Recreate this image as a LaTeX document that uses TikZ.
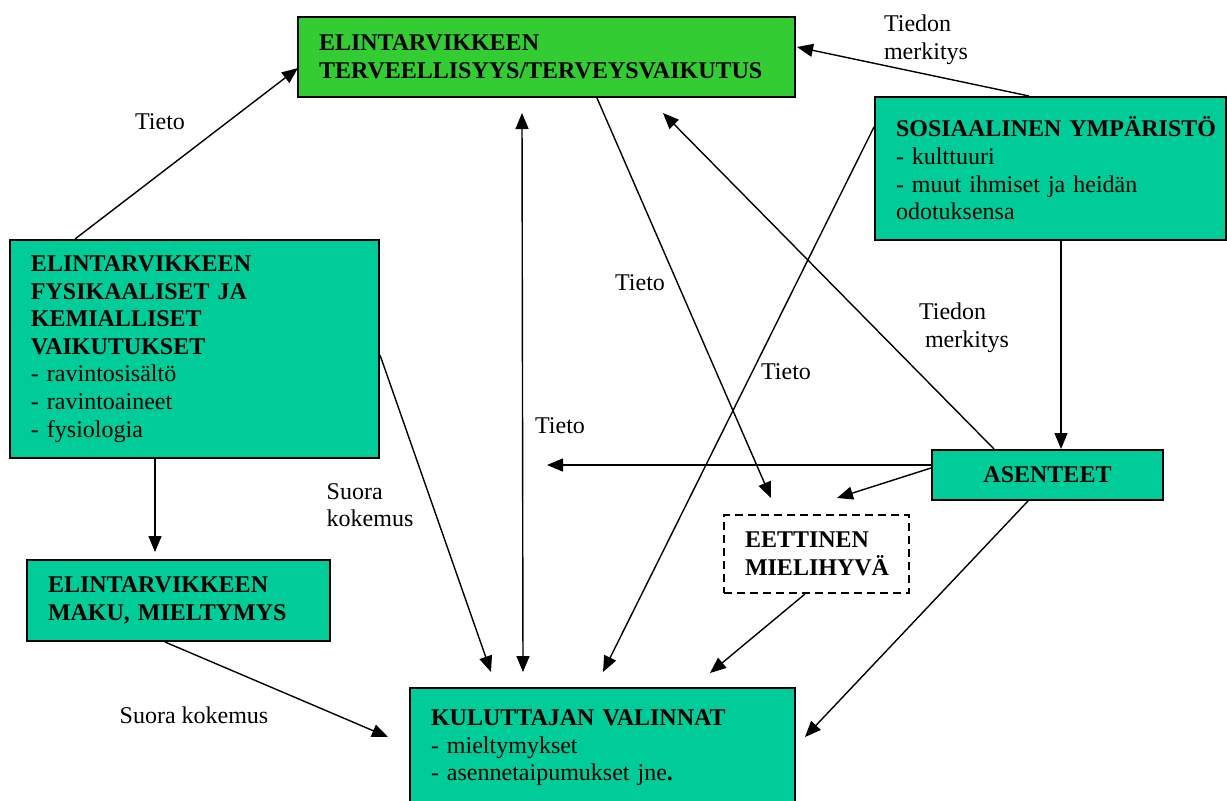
\documentclass[tikz,border=0pt]{standalone}
\usepackage{fontspec}
\setmainfont{Liberation Serif}
\usetikzlibrary{arrows.meta}

\definecolor{healthgreen}{HTML}{33CC33}
\definecolor{boxteal}{HTML}{00CC99}

\begin{document}
\begin{tikzpicture}[x=0.5pt,y=-0.5pt,
  font=\fontsize{12}{13.8}\selectfont,
  box/.style={draw,line width=1pt,fill=boxteal,inner xsep=10.5pt,align=left},
  lbl/.style={align=left,inner sep=0pt},
  arr/.style={-{Triangle[length=8pt,width=6.5pt]},line width=0.7pt}]
  \useasboundingbox (0,0) rectangle (1227,800);

  % --- Boxes ---
  \node[box,fill=healthgreen,minimum height=40pt,text width=227.5pt] (health) at (546.5,57)
    {\textbf{ELINTARVIKKEEN}\\\textbf{TERVEELLISYYS/TERVEYSVAIKUTUS}};
  \node[box,minimum height=71.5pt,text width=154.5pt] (social) at (1050.5,168.5)
    {\mbox{\textbf{SOSIAALINEN YMPÄRISTÖ}}\\- kulttuuri\\- muut ihmiset ja heidän\\odotuksensa};
  \node[box,minimum height=109pt,text width=163.5pt] (phys) at (194.5,349)
    {\textbf{ELINTARVIKKEEN}\\\textbf{FYSIKAALISET JA}\\\textbf{KEMIALLISET}\\\textbf{VAIKUTUKSET}\\- ravintosisältö\\- ravintoaineet\\- fysiologia};
  \node[box,minimum height=40.5pt,text width=130.5pt] (taste) at (178.5,600.5)
    {\textbf{ELINTARVIKKEEN}\\\textbf{MAKU, MIELTYMYS}};
  \node[box,align=center,minimum height=25pt,text width=94.5pt] (attitudes) at (1047.5,475)
    {\textbf{ASENTEET}};
  \node[box,fill=white,dash pattern=on 4pt off 2.5pt,minimum height=39pt,text width=71.5pt] (ethical) at (816.5,554)
    {\textbf{EETTINEN}\\\textbf{MIELIHYVÄ}};
  \node[box,minimum height=60pt,text width=171.5pt] (consumer) at (602.5,748)
    {\textbf{KULUTTAJAN VALINNAT}\\- mieltymykset\\- asennetaipumukset jne\textbf{.}};

  % --- Labels ---
  \node[lbl] (l1) at (160,122) {Tieto};
  \node[lbl] (l2) at (926,40) {Tiedon\\merkitys};
  \node[lbl] (l3) at (640,283) {Tieto};
  \node[lbl] (l4) at (786,372) {Tieto};
  \node[lbl] (l5) at (964,328) {Tiedon\\\hspace*{3pt}merkitys};
  \node[lbl] (l6) at (560,426) {Tieto};
  \node[lbl] (l7) at (370,505) {Suora\\kokemus};
  \node[lbl] (l8) at (194,715) {Suora kokemus};

  % --- Free arrow ends ---
  \coordinate (hs) at (522,113);
  \coordinate (cn) at (523,672);
  \coordinate (t1) at (298,68);
  \coordinate (t2) at (797,47);
  \coordinate (t4) at (771,498);
  \coordinate (t5) at (603,672);
  \coordinate (t6) at (663,113);
  \coordinate (t8) at (547,465);
  \coordinate (t9) at (837,498);
  \coordinate (t10) at (805,737);
  \coordinate (t11) at (710,673);
  \coordinate (t12) at (491,672);
  \coordinate (t13) at (155,552);
  \coordinate (t14) at (388,737);

  % --- Connectors ---
  \draw[arr] ([xshift=33pt]phys.north west) -- (t1);
  \draw[arr] ([xshift=77.5pt]social.north west) -- (t2);
  \draw[arr,{Triangle[length=8pt,width=6.5pt]}-{Triangle[length=8pt,width=6.5pt]}] (hs) -- (cn);
  \draw[arr] ([xshift=25.25pt]health.south) -- (t4);
  \draw[arr] ([yshift=20.75pt]social.west) -- (t5);
  \draw[arr] ([xshift=31.5pt]attitudes.north west) -- (t6);
  \draw[arr] ([xshift=5.25pt]social.south) -- ([xshift=6.75pt]attitudes.north);
  \draw[arr] ([yshift=5pt]attitudes.west) -- (t8);
  \draw[arr] ([yshift=3.5pt]attitudes.west) -- (t9);
  \draw[arr] ([xshift=-9.75pt]attitudes.south) -- (t10);
  \draw[arr] ([xshift=-5.75pt]ethical.south) -- (t11);
  \draw[arr] ([yshift=-3pt]phys.east) -- (t12);
  \draw[arr] ([xshift=-19.75pt]phys.south) -- (t13);
  \draw[arr] ([xshift=-6.75pt]taste.south) -- (t14);
\end{tikzpicture}
\end{document}
